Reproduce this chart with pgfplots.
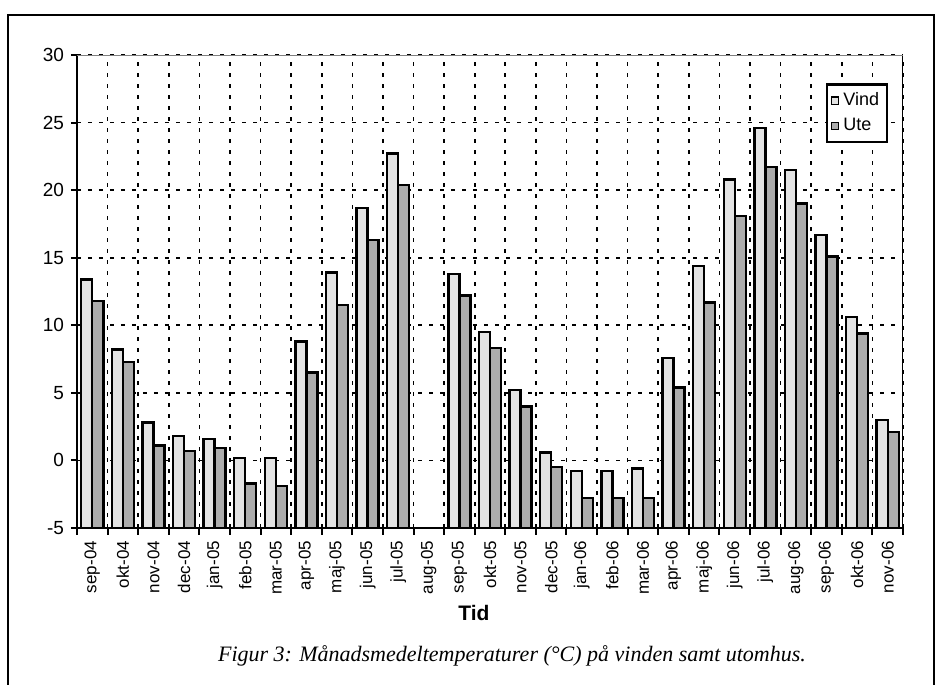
\documentclass[border=0pt]{standalone}
\usepackage{pgfplots}
\pgfplotsset{compat=1.18}
\usepackage{pgfplotstable}
\usepackage{fontspec}
\setmainfont{Liberation Sans}
\newfontfamily\capfont{Liberation Serif}

\pgfplotstableread{
idx vind ute
0 13.4 11.8
1 8.2 7.3
2 2.8 1.1
3 1.8 0.7
4 1.6 0.9
5 0.2 -1.7
6 0.2 -1.9
7 8.8 6.5
8 13.9 11.5
9 18.7 16.3
10 22.7 20.4
12 13.8 12.2
13 9.5 8.3
14 5.2 4.0
15 0.6 -0.5
16 -0.8 -2.8
17 -0.8 -2.8
18 -0.6 -2.8
19 7.6 5.4
20 14.4 11.7
21 20.8 18.1
22 24.6 21.7
23 21.5 19.0
24 16.7 15.1
25 10.6 9.4
26 3.0 2.1
}\datatable

\begin{document}
\begin{tikzpicture}
\useasboundingbox (-38.5pt,-78.5pt) rectangle (430.5pt,264pt);
\begin{axis}[
  at={(0,0)}, anchor=south west,
  scale only axis, width=413pt, height=236.5pt,
  xmin=-0.5, xmax=26.5, ymin=0, ymax=35,
  axis x line*=bottom, axis y line*=left,
  axis line style={-, line width=1.3pt, black},
  tick align=outside,
  major tick length=3pt, minor tick length=3.5pt,
  tick style={black, line width=1pt},
  major x tick style={draw=none},
  xtick={0,...,26},
  minor xtick={-0.5,0.5,...,26.5},
  xticklabels={sep-04,okt-04,nov-04,dec-04,jan-05,feb-05,mar-05,apr-05,maj-05,jun-05,jul-05,aug-05,sep-05,okt-05,nov-05,dec-05,jan-06,feb-06,mar-06,apr-06,maj-06,jun-06,jul-06,aug-06,sep-06,okt-06,nov-06},
  xticklabel style={rotate=90, anchor=east, font=\fontsize{8.5}{9}\selectfont},
  ytick={0,5,...,35},
  yticklabels={-5,0,5,10,15,20,25,30},
  yticklabel style={font=\fontsize{9.5}{10}\selectfont},
  /pgf/number format/assume math mode=true,
  xminorgrids=true, xmajorgrids=false, ymajorgrids=true,
  minor x grid style={black, line width=0.8pt, dash pattern=on 2pt off 3.5pt},
  major y grid style={black, line width=0.8pt, dash pattern=on 2pt off 3.5pt},
  legend style={at={(rel axis cs:0.982,0.94)}, anchor=north east, draw=black, line width=1.1pt,
    font=\fontsize{9}{11}\selectfont, inner sep=2pt, row sep=1pt},
  legend cell align=left,
]
\addplot[ybar, bar width=0.36, bar shift=-0.18, fill=gray!22, draw=black, line width=1.2pt,
  legend image code/.code={\draw[fill=gray!22, draw=black, line width=0.6pt] (0pt,-1.8pt) rectangle (3.6pt,1.8pt);}]
  table[x=idx, y expr=\thisrow{vind}+5] {\datatable};
\addlegendentry{Vind}
\addplot[ybar, bar width=0.36, bar shift=0.18, fill=gray!65, draw=black, line width=1.2pt,
  legend image code/.code={\draw[fill=gray!65, draw=black, line width=0.6pt] (0pt,-1.8pt) rectangle (3.6pt,1.8pt);}]
  table[x=idx, y expr=\thisrow{ute}+5] {\datatable};
\addlegendentry{Ute}
\draw[black, line width=0.9pt] (rel axis cs:1,0) -- (rel axis cs:1,1);
\draw[gray, line width=1.2pt] (rel axis cs:0,1) -- (rel axis cs:1,1);
\end{axis}
\draw[line width=1.2pt] (-34.5pt,-90pt) -- (-34.5pt,256.5pt) -- (428.5pt,256.5pt) -- (428.5pt,-90pt);
\node[font=\bfseries\fontsize{10.5}{12}\selectfont] at (198.5pt,-42.5pt) {Tid};
\node[font=\capfont\itshape\fontsize{11}{13}\selectfont] at (217.5pt,-64pt) {Figur 3: Månadsmedeltemperaturer (°C) på vinden samt utomhus.};
\end{tikzpicture}
\end{document}
